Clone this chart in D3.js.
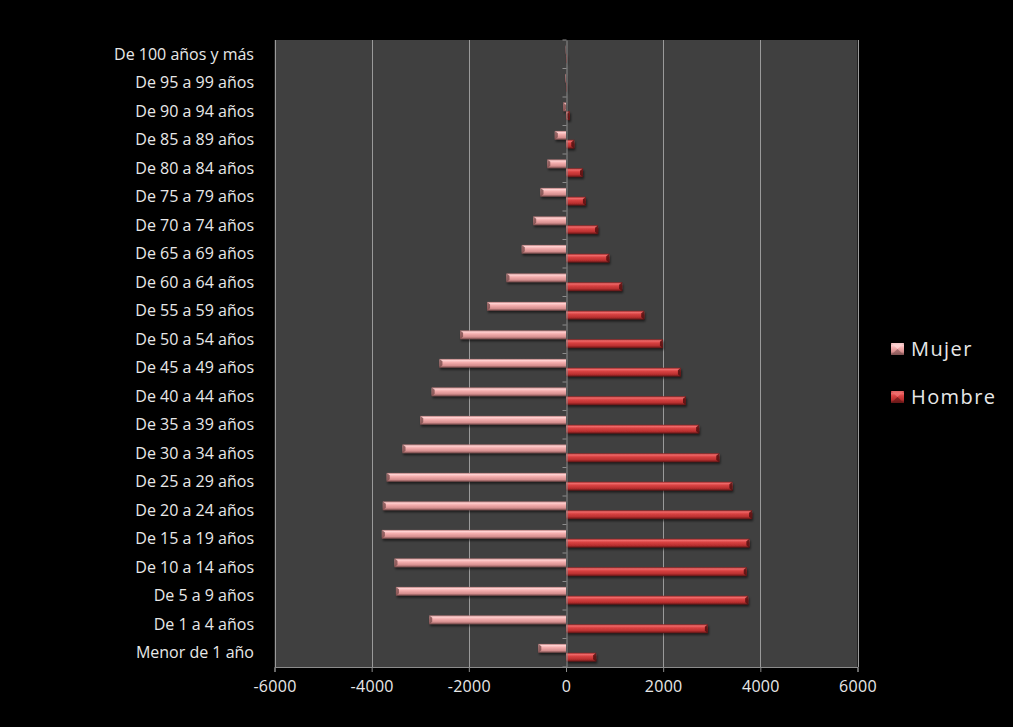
<!DOCTYPE html>
<html>
<head>
<meta charset="utf-8">
<script src="https://cdn.jsdelivr.net/npm/d3@7"></script>
<style>
html,body{margin:0;padding:0;background:#000;}
svg{display:block;}
</style>
</head>
<body>
<svg id="chart" width="1013" height="727"></svg>
<script>
const categories = ["De 100 años y más","De 95 a 99 años","De 90 a 94 años","De 85 a 89 años","De 80 a 84 años","De 75 a 79 años","De 70 a 74 años","De 65 a 69 años","De 60 a 64 años","De 55 a 59 años","De 50 a 54 años","De 45 a 49 años","De 40 a 44 años","De 35 a 39 años","De 30 a 34 años","De 25 a 29 años","De 20 a 24 años","De 15 a 19 años","De 10 a 14 años","De 5 a 9 años","De 1 a 4 años","Menor de 1 año"];
const mujer = [-5,-12,-60,-230,-385,-525,-675,-910,-1225,-1625,-2180,-2605,-2765,-3000,-3365,-3690,-3770,-3790,-3530,-3500,-2815,-570];
const hombre = [15,20,80,170,350,410,660,890,1155,1610,1995,2365,2470,2740,3155,3425,3830,3775,3720,3750,2920,620];
const xTicks = [-6000,-4000,-2000,0,2000,4000,6000];
const seriesNames = ["Mujer","Hombre"];

const svg = d3.select("#chart");
const L = 274.5, R = 857.5, T = 40, B = 667;
const x = d3.scaleLinear().domain([-6000,6000]).range([L,R]);
const y = d3.scaleBand().domain(categories).range([T,B]).paddingInner(0).paddingOuter(0);
const bh = y.bandwidth()*0.31;
const font = "'Open Sans', Lato, sans-serif";

const defs = svg.append("defs");
function grad(id, stops){
  const g = defs.append("linearGradient").attr("id",id).attr("x1",0).attr("y1",0).attr("x2",0).attr("y2",1);
  stops.forEach(s=>g.append("stop").attr("offset",s[0]).attr("stop-color",s[1]));
}
grad("gMujer",[[0,"#b47a7a"],[0.18,"#ffd0d0"],[0.4,"#f4aeae"],[0.75,"#d58e8e"],[1,"#6e4444"]]);
grad("gHombre",[[0,"#8a2020"],[0.18,"#f06a6a"],[0.4,"#d94343"],[0.75,"#b82e2e"],[1,"#5a1414"]]);
const sh = defs.append("filter").attr("id","shadow").attr("x","-10%").attr("y","-50%").attr("width","130%").attr("height","220%");
sh.append("feDropShadow").attr("dx",1).attr("dy",2).attr("stdDeviation",1.2).attr("flood-color","#000").attr("flood-opacity",0.55);

// plot area
svg.append("rect").attr("x",L).attr("y",T).attr("width",R-L).attr("height",B-T).attr("fill","#404040");

// gridlines
svg.append("g").selectAll("line").data(xTicks).join("line")
  .attr("x1",d=>Math.round(x(d))+0.5).attr("x2",d=>Math.round(x(d))+0.5)
  .attr("y1",T).attr("y2",B)
  .attr("stroke",d=>d===0?"none":"#9a9a9a").attr("stroke-width",1);

// bottom axis
const xAxis = d3.axisBottom(x).tickValues(xTicks).tickSize(5).tickPadding(9).tickFormat(d=>String(d));
const gx = svg.append("g").attr("transform",`translate(0,${B})`).call(xAxis);
gx.select(".domain").attr("stroke","#8c8c8c");
gx.selectAll(".tick line").attr("stroke","#8c8c8c");
gx.selectAll(".tick text").attr("fill","#e8e8e8").style("font-family",font).style("font-size","16px").style("letter-spacing","0.3px");

// bars
const gb = svg.append("g");
function bars(vals, series, cls, offset){
  const g = gb.append("g").attr("filter","url(#shadow)");
  g.selectAll("rect").data(vals.map((v,i)=>({v,c:categories[i]}))).join("rect")
    .attr("x",d=>Math.min(x(0),x(d.v)))
    .attr("y",d=>y(d.c)+offset)
    .attr("width",d=>Math.abs(x(d.v)-x(0)))
    .attr("height",bh)
    .attr("fill",`url(#${cls})`);
  g.selectAll("path").data(vals.map((v,i)=>({v,c:categories[i]}))).join("path")
    .attr("d",d=>{
      const xe = x(d.v), y0 = y(d.c)+offset, w = Math.min(3, Math.abs(x(d.v)-x(0)));
      const dir = d.v<0 ? 1 : -1;
      return `M${xe},${y0}L${xe+dir*w},${y0+w*0.8}L${xe+dir*w},${y0+bh-w*0.8}L${xe},${y0+bh}Z`;
    })
    .attr("fill", series==="Mujer" ? "#7a4c4c" : "#4a0e0e").attr("opacity",0.8);
}
const off1 = (y.bandwidth()-2*bh)/2;
bars(mujer,"Mujer","gMujer",off1);
bars(hombre,"Hombre","gHombre",off1+bh);

// left (zero) axis
const yAxis = d3.axisLeft(y).tickSize(0).tickFormat("");
const gy = svg.append("g").attr("transform",`translate(${Math.round(x(0))+0.5},0)`).call(yAxis);
gy.select(".domain").attr("stroke","#8c8c8c");
gy.selectAll(".sep").data(d3.range(categories.length+1)).join("line")
  .attr("x1",-4).attr("x2",0)
  .attr("y1",i=>T+i*y.bandwidth()).attr("y2",i=>T+i*y.bandwidth())
  .attr("stroke","#8c8c8c");

// category labels
svg.append("g").selectAll("text").data(categories).join("text")
  .attr("x",254).attr("y",d=>y(d)+y.bandwidth()/2)
  .attr("dy","0.35em").attr("text-anchor","end")
  .attr("fill","#e8e8e8").style("font-family",font).style("font-size","16px")
  .text(d=>d);

// legend
const leg = svg.append("g");
const legY = [349,397];
seriesNames.forEach((n,i)=>{
  const g = leg.append("g").attr("transform",`translate(891,${legY[i]})`);
  g.append("rect").attr("x",0).attr("y",-6).attr("width",13).attr("height",12)
    .attr("fill", i===0 ? "url(#gMujer)" : "url(#gHombre)");
  g.append("path").attr("d","M0,-6L6.5,0L13,-6Z").attr("fill", i===0 ? "#ffd6d6" : "#f07070").attr("opacity",0.8);
  g.append("path").attr("d","M0,6L6.5,0L13,6Z").attr("fill", i===0 ? "#8a5a5a" : "#6a1a1a").attr("opacity",0.7);
  g.append("text").attr("x",20).attr("y",0).attr("dy","0.36em")
    .attr("fill","#e8e8e8").style("font-family",font).style("font-size","20px").style("letter-spacing","1.4px").text(n);
});
</script>
</body>
</html>
